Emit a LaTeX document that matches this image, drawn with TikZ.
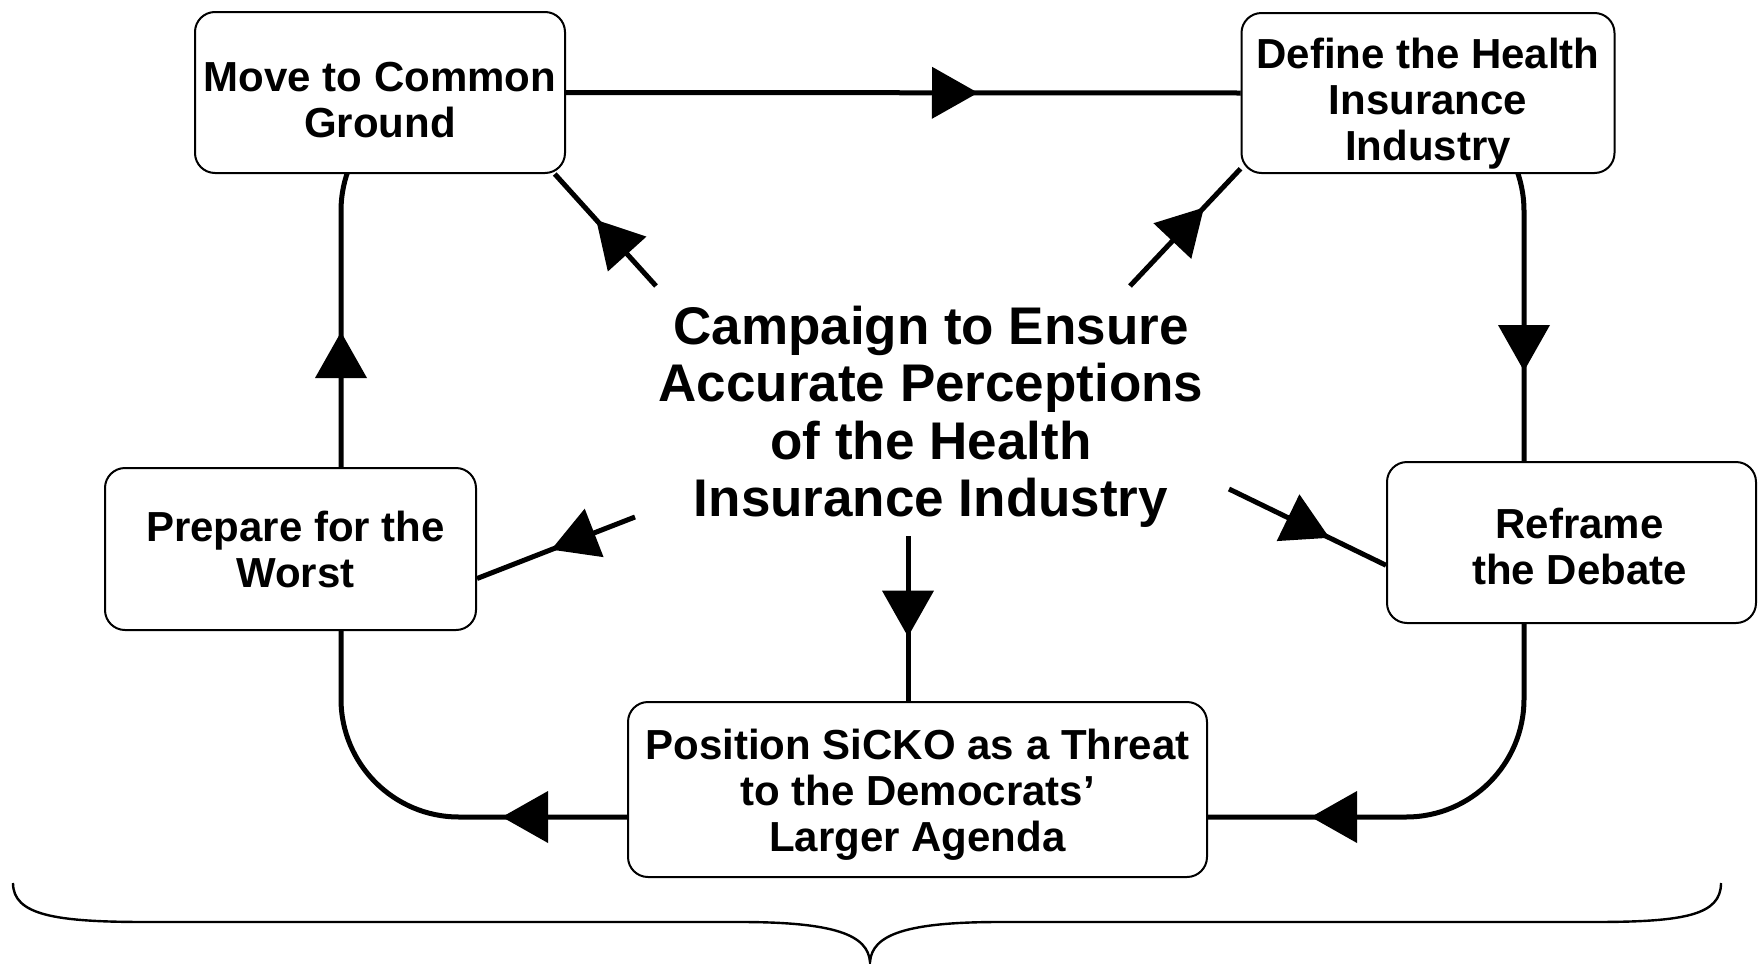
\documentclass[tikz,border=0pt]{standalone}
\usepackage{fontspec}
\setmainfont{Liberation Sans}
\usetikzlibrary{decorations.markings,backgrounds}

\tikzset{
  stage/.style={draw=black, line width=1pt, rounded corners=10pt, fill=white,
    align=center, inner sep=0pt, text depth=0pt,
    font=\fontsize{21}{23}\selectfont\bfseries},
  hub/.style={align=center, inner sep=0pt, text depth=0pt,
    font=\fontsize{26.5}{28.7}\selectfont\bfseries},
  flow/.style={line width=2.5pt, rounded corners=59pt},
  spoke/.style={line width=2.5pt},
  headat/.style={postaction={decorate}, decoration={markings,
    mark=at position #1 with {\fill[black, sharp corners] (0,0) -- (-23pt,13pt) -- (-23pt,-13pt) -- cycle;}}},
  brace/.style={line width=1.2pt},
}

\begin{document}
\begin{tikzpicture}[x=0.5pt, y=-0.5pt]
\useasboundingbox (0,0) rectangle (1758,964);

% stages of the cycle
\node[stage, minimum width=185pt, minimum height=80.5pt, text height=44.8pt] (move) at (380,92.5)
  {Move to Common\\Ground};
\node[stage, minimum width=186.5pt, minimum height=80pt, text height=67.7pt] (define) at (1428,93)
  {Define the Health\\Insurance\\Industry};
\node[stage, minimum width=184.5pt, minimum height=80.5pt, text height=41.5pt] (reframe) at (1571.5,542.5)
  {\hspace*{8pt}Reframe\\\hspace*{8pt}the Debate};
\node[stage, minimum width=289.5pt, minimum height=87.5pt, text height=61.7pt] (position) at (917.5,789.5)
  {Position SiCKO as a Threat\\to the Democrats'\\Larger Agenda};
\node[stage, minimum width=185.5pt, minimum height=81pt, text height=38.3pt] (prepare) at (290.5,549)
  {\hspace*{5pt}Prepare for the\\\hspace*{5pt}Worst};

% central campaign text
\node[hub, text height=105.4pt] (campaign) at (931,411)
  {Campaign to Ensure\\Accurate Perceptions\\of the Health\\Insurance Industry};

% where the spokes leave the central text
\coordinate (s1) at (656,286);
\coordinate (s2) at (1130,286);
\coordinate (s3) at (635,517);
\coordinate (s4) at (908,536);
\coordinate (s5) at (1229,489);

% corners of the outer loop
\coordinate (ctl) at (341,93);
\coordinate (ctr) at (1524,93);
\coordinate (cbr) at (1524,817);
\coordinate (cbl) at (341,817);

\begin{pgfonlayer}{background}
  % outer cycle
  \draw[flow, headat=206pt] (move.east) -- (define.west);
  \draw[flow, headat=-45pt] (define.west) -- (ctr) -- (reframe.north -| ctr);
  \draw[flow, headat=-51.5pt] (reframe.south -| cbr) -- (cbr) -- (position.east |- cbr);
  \draw[flow, headat=62.5pt] (position.west |- cbl) -- (cbl) -- (prepare.south -| cbl);
  \draw[flow, headat=67.5pt] (prepare.north -| ctl) -- (ctl) -- (move.east);
  % spokes from the campaign
  \draw[spoke, headat=0.59] (s1) -- (move.-25.3);
  \draw[spoke, headat=0.67] (s2) -- (define.-158);
  \draw[spoke, headat=0.53] (s3) -- (prepare.-9.2);
  \draw[spoke, headat=0.61] (s4) -- (s4 |- position.north);
  \draw[spoke, headat=0.64] (s5) -- (reframe.-173);
\end{pgfonlayer}

% brace underneath
\draw[brace] (13,883) .. controls (13,915) and (55,922) .. (146,922)
  -- (740,922) .. controls (835,922) and (868,935) .. (870,962)
  .. controls (872,935) and (905,922) .. (1000,922)
  -- (1594,922) .. controls (1685,922) and (1721,915) .. (1721,883);
\end{tikzpicture}
\end{document}
